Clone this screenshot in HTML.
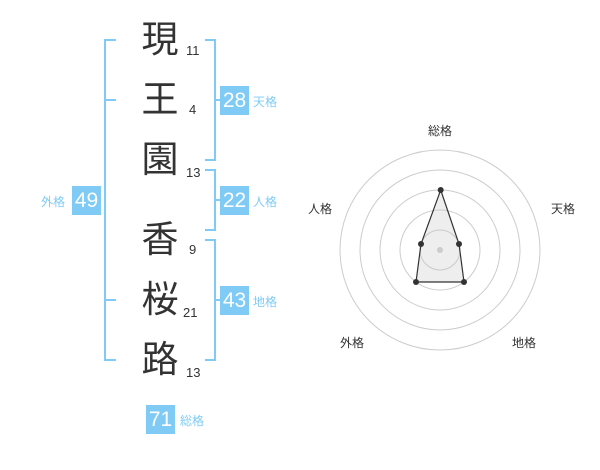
<!DOCTYPE html>
<html><head><meta charset="utf-8"><style>
body{margin:0;width:600px;height:470px;background:#fff;font-family:"Liberation Sans","Noto Sans CJK JP",sans-serif;position:relative;overflow:hidden}
.k{position:absolute;font-size:37px;color:#333;width:40px;text-align:center;line-height:40px;left:140px}
.n{position:absolute;font-size:13px;color:#333;line-height:14px}
.b{position:absolute;width:29px;height:29px;background:#7fcbf6;color:#fff;font-size:21px;line-height:29px;text-align:center}
.l{position:absolute;font-size:12px;color:#7fcbf6;line-height:14px}
</style></head><body>
<svg width="600" height="470" style="position:absolute;left:0;top:0">
<g stroke="#7fcbf6" stroke-width="2" fill="none">
<path d="M116 40H105V360H116M105 100H116M105 300H116"/>
<path d="M205 40H215V160H205M215 100H222"/>
<path d="M205 170H215V230H205M215 200H222"/>
<path d="M205 240H215V360H205M215 300H222"/>
</g>
<g fill="none" stroke="#ccc" stroke-width="1">
<circle cx="440" cy="250" r="20"/><circle cx="440" cy="250" r="40"/><circle cx="440" cy="250" r="60"/><circle cx="440" cy="250" r="80"/><circle cx="440" cy="250" r="100"/>
</g>
<polygon points="440.7,190 459,244 464,282 416,282 421,244" fill="rgba(200,200,200,0.3)" stroke="#333" stroke-width="1.2"/>
<circle cx="440" cy="250" r="3" fill="#ccc"/>
<g fill="#333"><circle cx="440.7" cy="190" r="3"/><circle cx="459" cy="244" r="3"/><circle cx="421" cy="244" r="3"/><circle cx="416" cy="282" r="3"/><circle cx="464" cy="282" r="3"/></g>
<g font-size="12" fill="#333" text-anchor="middle" font-family="Liberation Sans,Noto Sans CJK JP,sans-serif">
<text x="440" y="135">総格</text><text x="563" y="213">天格</text><text x="320" y="213">人格</text><text x="352" y="347">外格</text><text x="524" y="347">地格</text>
</g>
</svg>
<div class="k" style="top:20px">現</div><div class="n" style="left:186px;top:44px">11</div>
<div class="k" style="top:80px">王</div><div class="n" style="left:189px;top:103px">4</div>
<div class="k" style="top:140px">園</div><div class="n" style="left:186px;top:166px">13</div>
<div class="k" style="top:220px">香</div><div class="n" style="left:189px;top:243px">9</div>
<div class="k" style="top:280px">桜</div><div class="n" style="left:183px;top:306px">21</div>
<div class="k" style="top:340px">路</div><div class="n" style="left:186px;top:366px">13</div>
<div class="b" style="left:220px;top:86px">28</div><div class="l" style="left:253px;top:95px">天格</div>
<div class="b" style="left:220px;top:186px">22</div><div class="l" style="left:253px;top:195px">人格</div>
<div class="b" style="left:220px;top:286px">43</div><div class="l" style="left:253px;top:295px">地格</div>
<div class="b" style="left:72px;top:186px">49</div><div class="l" style="left:41px;top:195px">外格</div>
<div class="b" style="left:146px;top:405px">71</div><div class="l" style="left:180px;top:414px">総格</div>
</body></html>
